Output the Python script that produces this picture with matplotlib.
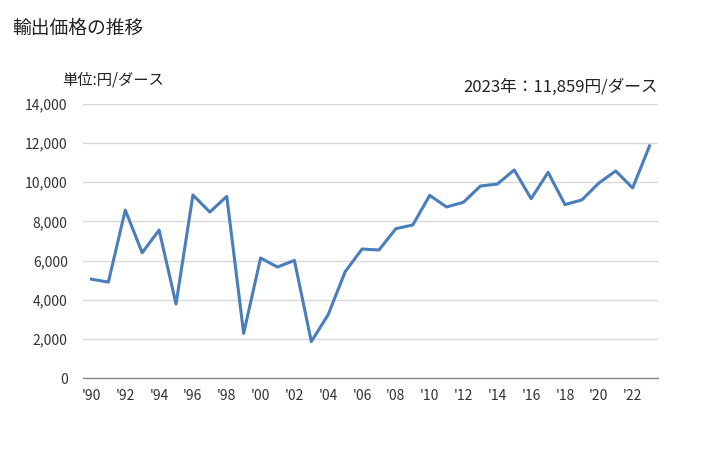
import matplotlib
matplotlib.use("Agg")
import matplotlib.pyplot as plt
from matplotlib.ticker import FuncFormatter

plt.rcParams['font.family'] = ['Noto Sans CJK JP', 'DejaVu Sans']

# 輸出価格 (円/ダース)
years = list(range(1990, 2024))
prices = [5050, 4900, 8580, 6400, 7560, 3780, 9350, 8480, 9280, 2280,
          6130, 5670, 6010, 1860, 3240, 5430, 6590, 6540, 7630, 7820,
          9330, 8740, 8980, 9810, 9910, 10630, 9160, 10510, 8860, 9100,
          9960, 10580, 9710, 11859]
yticks = list(range(0, 14001, 2000))
xtick_years = years[::2]
xtick_labels = ["'" + str(y)[2:] for y in xtick_years]

fig = plt.figure(figsize=(7.28, 4.5), dpi=100)
ax = fig.add_axes([83 / 728, 1 - 378 / 450, 575 / 728, 274 / 450])

ax.plot(years, prices, color='#4a7ebb', linewidth=2.2)

ax.set_xlim(years[0] - 0.5, years[-1] + 0.5)
ax.set_ylim(0, 14000)
ax.set_yticks(yticks)
ax.yaxis.set_major_formatter(FuncFormatter(lambda v, p: f"{int(v):,}"))
ax.set_xticks(xtick_years)
ax.set_xticklabels(xtick_labels)

ax.grid(axis='y', color='#d9d9d9', linewidth=1.0)
ax.set_axisbelow(True)
for s in ['top', 'right', 'left']:
    ax.spines[s].set_visible(False)
ax.spines['bottom'].set_color('#898989')
ax.spines['bottom'].set_linewidth(1.0)
ax.tick_params(axis='both', length=0, labelsize=10, colors='#333333')
ax.tick_params(axis='x', pad=8)
ax.tick_params(axis='y', pad=11)

fig.text(12 / 728, 1 - 28 / 450, '輸出価格の推移', fontsize=13.5, va='center', ha='left', color='#222222')
fig.text(62 / 728, 1 - 80 / 450, '単位:円/ダース', fontsize=11, va='center', ha='left', color='#222222')
fig.text(658 / 728, 1 - 87 / 450, '2023年：11,859円/ダース', fontsize=12, va='center', ha='right', color='#222222')

fig.savefig('out.png', dpi=100)
